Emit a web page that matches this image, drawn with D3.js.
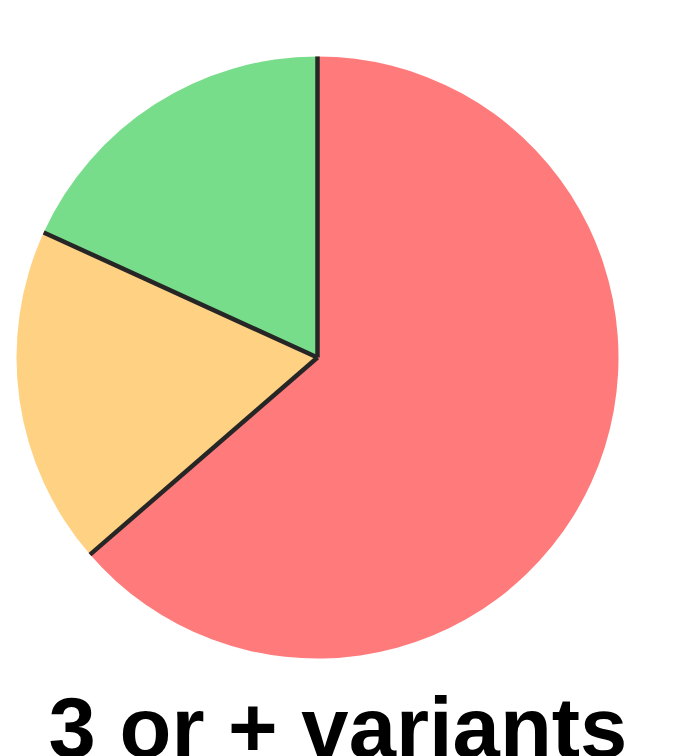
<!DOCTYPE html>
<html>
<head>
<meta charset="utf-8">
<script src="https://cdn.jsdelivr.net/npm/d3@7"></script>
<style>
  html, body { margin: 0; padding: 0; background: #ffffff; overflow: hidden; }
  svg { display: block; }
</style>
</head>
<body>
<svg id="chart" width="676" height="756"></svg>
<script>
// Variant count groups and their shares
const categories = ["3 or + variants", "2 variants", "1 variant"];
const values = [7, 2, 2];
const colors = ["#ff7b7b", "#ffd182", "#78dd8b"];
const title = "3 or + variants";

const width = 676, height = 756;
const cx = 317.5, cy = 357.5, radius = 301;

const svg = d3.select("#chart");
const g = svg.append("g").attr("transform", `translate(${cx},${cy})`);

const pie = d3.pie().sort(null).value(d => d)(values);
const arc = d3.arc().innerRadius(0).outerRadius(radius);

g.selectAll("path.slice")
  .data(pie)
  .enter().append("path")
  .attr("class", "slice")
  .attr("d", arc)
  .attr("fill", (d, i) => colors[i]);

// Dark separators along each slice boundary
g.selectAll("line.sep")
  .data(pie)
  .enter().append("line")
  .attr("class", "sep")
  .attr("x1", 0).attr("y1", 0)
  .attr("x2", d => d3.pointRadial(d.startAngle, radius)[0])
  .attr("y2", d => d3.pointRadial(d.startAngle, radius)[1])
  .attr("stroke", "#262626")
  .attr("stroke-width", 4.5);

svg.append("text")
  .attr("x", width / 2)
  .attr("y", 757)
  .attr("text-anchor", "middle")
  .attr("font-family", "'Liberation Sans', Arial, sans-serif")
  .attr("font-weight", "bold")
  .attr("font-size", 85)
  .attr("fill", "#000")
  .text(title);
</script>
</body>
</html>
